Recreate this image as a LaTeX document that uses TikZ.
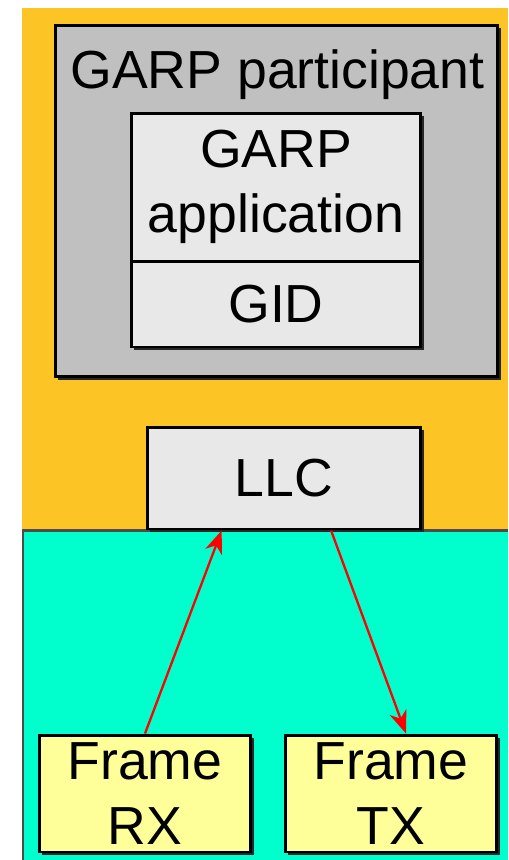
\documentclass[tikz,border=0pt]{standalone}
\usepackage{fontspec}
\setmainfont{Liberation Sans}
\usetikzlibrary{arrows.meta}
\usetikzlibrary{shadows,calc}
\definecolor{garporange}{RGB}{253,196,37}
\definecolor{garpteal}{RGB}{0,255,204}
\definecolor{garpgray}{RGB}{192,192,192}
\definecolor{boxgray}{RGB}{232,232,232}
\definecolor{frameyellow}{RGB}{255,255,153}

\begin{document}
\begin{tikzpicture}[x=0.02cm,y=-0.02cm]
      \tikzstyle{every node}=[rectangle, inner sep=0pt, align=center, font=\fontsize{30.5}{37}\selectfont]
      \tikzstyle{box}=[draw, line width=1.7pt, drop shadow={shadow xshift=1.7pt, shadow yshift=-1.7pt, fill=black!85, opacity=1}]
      \tikzstyle{link}=[red, line width=1.3pt, -{Stealth[length=13pt,width=10pt,inset=4pt]}]
      \useasboundingbox (0,0) rectangle (508,860);
      \fill[garporange] (22,8) rectangle (508,530);
      \fill[garpteal] (22,530) rectangle (508,860);
      \draw[black!70, line width=1.2pt] (23,860) -- (23,530.5) -- (508,530.5);

      \node[box, fill=garpgray, minimum width=8.86cm, minimum height=7.04cm] (part) at (276.5,201) {};
      \node[anchor=base] (parttext) at (277.5,88) {GARP participant};
      \node[box, fill=boxgray, minimum width=5.8cm, minimum height=2.96cm] (app) at (276,187) {GARP\\application};
      \node[box, fill=boxgray, minimum width=5.8cm, minimum height=1.72cm] (gid) at (276,304) {GID};
      \node[box, fill=boxgray, minimum width=5.48cm, minimum height=2.04cm] (llc) at (284,478) {LLC};
      \node[box, fill=frameyellow, minimum width=4.24cm, minimum height=2.34cm, font=\fontsize{30.5}{37.5}\selectfont] (rx) at (145,793.5) {Frame\\RX};
      \node[box, fill=frameyellow, minimum width=4.24cm, minimum height=2.34cm, font=\fontsize{30.5}{37.5}\selectfont] (tx) at (391,793.5) {Frame\\TX};

      \draw[link] (rx.north) -- ($(llc.south west)!0.275!(llc.south east)$);
      \draw[link] ($(llc.south west)!0.67!(llc.south east)$) -- ([xshift=0.3cm]tx.north);
    \end{tikzpicture}
\end{document}
